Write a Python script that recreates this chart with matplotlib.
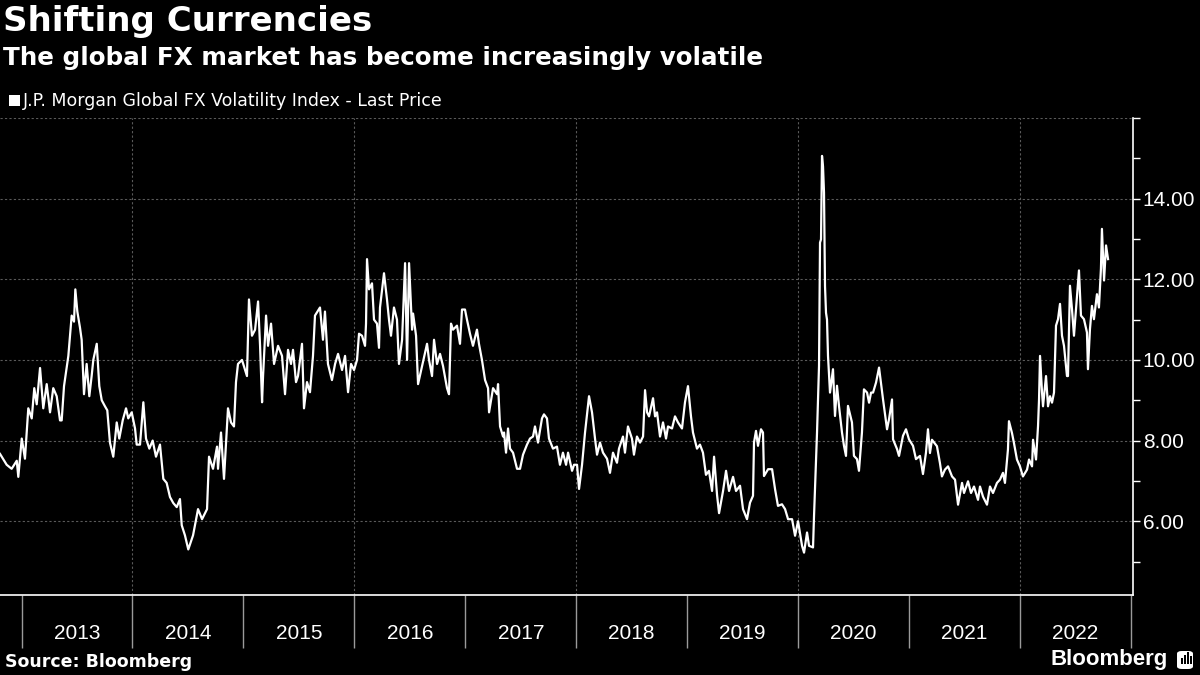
import matplotlib

matplotlib.use("Agg")
import matplotlib.pyplot as plt
from matplotlib.patches import FancyBboxPatch, Rectangle

plt.rcParams["font.family"] = ["Liberation Sans", "DejaVu Sans"]

# J.P. Morgan Global FX Volatility Index - Last Price.
# dates are decimal years, fx_vol is the index level.
dates = [
    # late 2012 - mid 2014
    2012.806, 2012.866, 2012.911, 2012.957, 2012.971, 2013.002, 2013.031, 2013.061, 2013.092, 2013.115,
    2013.137, 2013.167, 2013.196, 2013.227, 2013.257, 2013.286, 2013.317, 2013.347, 2013.362, 2013.383,
    2013.422, 2013.452, 2013.473, 2013.485, 2013.503, 2013.527, 2013.542, 2013.563, 2013.587, 2013.611,
    2013.632, 2013.647, 2013.678, 2013.701, 2013.723, 2013.752, 2013.773, 2013.797, 2013.827, 2013.858,
    2013.881, 2013.912, 2013.942, 2013.962, 2013.993, 2014.023, 2014.038, 2014.068, 2014.098, 2014.122,
    2014.152, 2014.182, 2014.212, 2014.248, 2014.278, 2014.308, 2014.338, 2014.368, 2014.399, 2014.428,
    2014.444, 2014.473, 2014.503,
    # mid 2014 - early 2016
    2014.546, 2014.591, 2014.627, 2014.672, 2014.690, 2014.726, 2014.762, 2014.771, 2014.798, 2014.825,
    2014.861, 2014.888, 2014.915, 2014.933, 2014.951, 2014.987, 2015.032, 2015.050, 2015.077, 2015.105,
    2015.132, 2015.150, 2015.168, 2015.177, 2015.204, 2015.222, 2015.249, 2015.276, 2015.312, 2015.348,
    2015.375, 2015.402, 2015.429, 2015.447, 2015.474, 2015.492, 2015.528, 2015.546, 2015.573, 2015.600,
    2015.627, 2015.645, 2015.690, 2015.717, 2015.735, 2015.762, 2015.798, 2015.826, 2015.853, 2015.889,
    2015.916, 2015.943, 2015.970, 2015.997, 2016.024, 2016.042, 2016.069, 2016.096, 2016.105,
    # 2016 - 2017
    2016.114, 2016.132, 2016.159, 2016.177, 2016.204, 2016.222, 2016.231, 2016.267, 2016.294, 2016.312,
    2016.330, 2016.357, 2016.384, 2016.402, 2016.430, 2016.457, 2016.475, 2016.493, 2016.520, 2016.529,
    2016.556, 2016.574, 2016.610, 2016.655, 2016.673, 2016.700, 2016.718, 2016.745, 2016.772, 2016.799,
    2016.835, 2016.853, 2016.871, 2016.889, 2016.925, 2016.952, 2016.970, 2016.997, 2017.015, 2017.042,
    2017.069, 2017.105, 2017.123, 2017.150, 2017.178, 2017.205, 2017.214, 2017.250, 2017.286, 2017.295,
    2017.313, 2017.340, 2017.349, 2017.367, 2017.385, 2017.403, 2017.430, 2017.466, 2017.493, 2017.520,
    2017.556, 2017.583, 2017.610, 2017.628, 2017.655, 2017.691, 2017.709, 2017.736, 2017.754, 2017.790,
    2017.826, 2017.853, 2017.880, 2017.908, 2017.926, 2017.962, 2017.980, 2018.007,
    # 2018 - mid 2019
    2018.025, 2018.052, 2018.079, 2018.115, 2018.142, 2018.169, 2018.187, 2018.214, 2018.241, 2018.277,
    2018.304, 2018.331, 2018.367, 2018.385, 2018.421, 2018.439, 2018.466, 2018.502, 2018.520, 2018.547,
    2018.575, 2018.602, 2018.620, 2018.638, 2018.656, 2018.692, 2018.710, 2018.728, 2018.755, 2018.782,
    2018.809, 2018.827, 2018.863, 2018.890, 2018.917, 2018.953, 2018.980, 2019.007, 2019.034, 2019.052,
    2019.088, 2019.115, 2019.142, 2019.169, 2019.196, 2019.224, 2019.242, 2019.269, 2019.287, 2019.323,
    2019.350, 2019.377, 2019.413, 2019.440,
    # mid 2019 - early 2021
    2019.476, 2019.503, 2019.539, 2019.566, 2019.593, 2019.602, 2019.620, 2019.638, 2019.665, 2019.683,
    2019.692, 2019.729, 2019.765, 2019.792, 2019.818, 2019.854, 2019.882, 2019.909, 2019.945, 2019.972,
    2019.999, 2020.035, 2020.053, 2020.080, 2020.098, 2020.134, 2020.143, 2020.161, 2020.170, 2020.188,
    2020.192, 2020.197, 2020.206, 2020.215, 2020.224, 2020.233, 2020.242, 2020.251, 2020.260, 2020.269,
    2020.287, 2020.314, 2020.332, 2020.350, 2020.368, 2020.395, 2020.413, 2020.431, 2020.449, 2020.485,
    2020.503, 2020.530, 2020.548, 2020.575, 2020.593, 2020.621, 2020.639, 2020.657, 2020.675, 2020.702,
    2020.729, 2020.765, 2020.801, 2020.819, 2020.846, 2020.855, 2020.891, 2020.909, 2020.945, 2020.972,
    2020.999, 2021.035, 2021.062, 2021.098, 2021.125, 2021.152, 2021.170,
    # 2021 - 2022
    2021.188, 2021.206, 2021.251, 2021.278, 2021.296, 2021.323, 2021.351, 2021.387, 2021.414, 2021.441,
    2021.477, 2021.495, 2021.531, 2021.558, 2021.585, 2021.621, 2021.639, 2021.666, 2021.702, 2021.729,
    2021.756, 2021.792, 2021.819, 2021.846, 2021.864, 2021.891, 2021.900, 2021.927, 2021.945, 2021.972,
    2021.999, 2022.026, 2022.063, 2022.081, 2022.108, 2022.117, 2022.144, 2022.162, 2022.171, 2022.180,
    2022.198, 2022.207, 2022.234, 2022.252, 2022.270, 2022.288, 2022.306, 2022.324, 2022.342, 2022.360,
    2022.378, 2022.396, 2022.423, 2022.432, 2022.450, 2022.468, 2022.486, 2022.513, 2022.531, 2022.549,
    2022.576, 2022.603, 2022.612, 2022.630, 2022.648, 2022.666, 2022.693, 2022.711, 2022.729, 2022.738,
    2022.757, 2022.775, 2022.793,
]

fx_vol = [
    # late 2012 - mid 2014
    7.67, 7.4, 7.3, 7.5, 7.1, 8.05, 7.55, 8.8, 8.55, 9.3,
    8.9, 9.8, 8.8, 9.4, 8.7, 9.3, 9.1, 8.5, 8.5, 9.35,
    10.1, 11.1, 10.95, 11.75, 11.2, 10.8, 10.5, 9.15, 9.9, 9.1,
    9.6, 10.0, 10.4, 9.35, 9.0, 8.85, 8.75, 7.95, 7.6, 8.45,
    8.05, 8.5, 8.8, 8.55, 8.7, 8.3, 7.9, 7.9, 8.95, 8.05,
    7.8, 8.0, 7.6, 7.9, 7.05, 6.95, 6.6, 6.45, 6.35, 6.55,
    5.9, 5.65, 5.3,
    # mid 2014 - early 2016
    5.65, 6.3, 6.05, 6.3, 7.6, 7.3, 7.85, 7.3, 8.2, 7.05,
    8.8, 8.45, 8.35, 9.45, 9.9, 10.0, 9.6, 11.5, 10.6, 10.75,
    11.45, 10.35, 8.95, 9.6, 11.1, 10.35, 10.9, 9.9, 10.35, 10.1,
    9.15, 10.25, 9.9, 10.25, 9.45, 9.6, 10.4, 8.8, 9.45, 9.2,
    10.1, 11.1, 11.3, 10.5, 11.2, 9.9, 9.5, 9.9, 10.15, 9.75,
    10.1, 9.2, 9.9, 9.75, 10.0, 10.65, 10.6, 10.35, 10.9,
    # 2016 - 2017
    12.5, 11.75, 11.9, 11.0, 10.9, 10.3, 11.3, 12.15, 11.5, 11.0,
    10.6, 11.3, 11.0, 9.9, 10.5, 12.4, 10.0, 12.4, 10.75, 11.15,
    10.6, 9.4, 9.85, 10.4, 10.0, 9.6, 10.5, 9.9, 10.15, 9.85,
    9.3, 9.15, 10.9, 10.75, 10.85, 10.4, 11.25, 11.25, 11.0, 10.65,
    10.35, 10.75, 10.4, 10.0, 9.5, 9.3, 8.7, 9.3, 9.15, 9.4,
    8.35, 8.1, 8.2, 7.7, 8.3, 7.8, 7.7, 7.3, 7.3, 7.65,
    7.9, 8.05, 8.1, 8.35, 7.95, 8.55, 8.65, 8.55, 8.05, 7.8,
    7.85, 7.4, 7.7, 7.4, 7.7, 7.25, 7.4, 7.4,
    # 2018 - mid 2019
    6.8, 7.4, 8.2, 9.1, 8.7, 8.05, 7.65, 7.95, 7.7, 7.55,
    7.2, 7.7, 7.45, 7.8, 8.1, 7.7, 8.35, 8.05, 7.65, 8.1,
    7.95, 8.1, 9.25, 8.7, 8.6, 9.05, 8.6, 8.7, 8.1, 8.45,
    8.05, 8.35, 8.3, 8.6, 8.45, 8.3, 8.95, 9.35, 8.6, 8.2,
    7.8, 7.9, 7.7, 7.15, 7.25, 6.75, 7.6, 6.65, 6.2, 6.75,
    7.25, 6.75, 7.1, 6.75,
    # mid 2019 - early 2021
    6.88, 6.3, 6.05, 6.46, 6.63, 7.95, 8.24, 7.87, 8.28, 8.2,
    7.12, 7.29, 7.29, 6.79, 6.38, 6.42, 6.3, 6.05, 6.05, 5.64,
    6.0, 5.39, 5.22, 5.72, 5.39, 5.35, 6.13, 7.54, 8.2, 9.85,
    11.09, 12.91, 12.99, 15.06, 14.8, 14.15, 11.83, 11.17, 11.0, 10.1,
    9.19, 9.77, 8.61, 9.36, 8.86, 8.2, 7.87, 7.62, 8.86, 8.45,
    7.62, 7.54, 7.25, 8.2, 9.27, 9.19, 8.94, 9.19, 9.19, 9.44,
    9.81, 9.02, 8.28, 8.53, 9.02, 8.03, 7.79, 7.62, 8.12, 8.28,
    8.03, 7.87, 7.54, 7.62, 7.17, 7.7, 8.28,
    # 2021 - 2022
    7.69, 8.02, 7.86, 7.44, 7.11, 7.28, 7.36, 7.11, 7.03, 6.41,
    6.95, 6.7, 6.99, 6.7, 6.86, 6.53, 6.86, 6.61, 6.41, 6.86,
    6.7, 6.95, 7.03, 7.2, 6.95, 7.78, 8.48, 8.19, 7.94, 7.53,
    7.36, 7.11, 7.28, 7.53, 7.36, 8.02, 7.53, 8.36, 9.02, 10.1,
    9.19, 8.85, 9.6, 8.85, 9.1, 8.94, 9.19, 10.85, 11.01, 11.39,
    10.6, 10.35, 9.6, 9.6, 11.84, 11.26, 10.6, 11.59, 12.22, 11.1,
    11.01, 10.68, 9.77, 10.76, 11.34, 11.01, 11.63, 11.3, 12.26, 13.25,
    11.97, 12.84, 12.5,
]

assert len(dates) == len(fx_vol)

year_labels = ["2013", "2014", "2015", "2016", "2017", "2018", "2019", "2020", "2021", "2022"]
year_edges = [2013, 2014, 2015, 2016, 2017, 2018, 2019, 2020, 2021, 2022, 2023]
grid_years = [2014, 2016, 2018, 2020, 2022]
y_major = [6, 8, 10, 12, 14, 16]
y_minor = [5, 7, 9, 11, 13, 15]

TITLE = "Shifting Currencies"
SUBTITLE = "The global FX market has become increasingly volatile"
LEGEND = "J.P. Morgan Global FX Volatility Index - Last Price"
SOURCE = "Source: Bloomberg"

W, H = 1200, 675
fig = plt.figure(figsize=(W / 100, H / 100), dpi=100, facecolor="black")

# axes box in pixels: x 0..1133, y 118..595
ax = fig.add_axes([0, 1 - 595 / H, 1133 / W, (595 - 118) / H])
ax.set_facecolor("black")

ax.plot(dates, fx_vol, color="white", lw=1.6, solid_joinstyle="round", zorder=3)

ax.set_xlim(2012.806, 2023.018)
ax.set_ylim(4.17, 16)

for s in ["left", "top"]:
    ax.spines[s].set_visible(False)
for s in ["right", "bottom"]:
    ax.spines[s].set_color("white")
    ax.spines[s].set_linewidth(1.2)

# y axis on the right
ax.yaxis.tick_right()
ax.set_yticks(y_major)
ax.set_yticklabels([f"{v:.2f}" if v < 16 else "" for v in y_major])
ax.set_yticks(y_minor, minor=True)
ax.tick_params(axis="y", which="both", direction="out", length=5, width=1,
               color="white", labelcolor="white", labelsize=15, pad=2)
ax.grid(axis="y", which="major", color="#5a5a5a", linestyle=(0, (2, 2)), lw=0.8)
for gy in grid_years:
    ax.axvline(gy, color="#5a5a5a", linestyle=(0, (2, 2)), lw=0.8, zorder=1)

# x axis: long separators at year edges, labels centred in each year
ax.set_xticks(year_edges)
ax.set_xticklabels([])
ax.set_xticks([y + 0.5 for y in year_edges[:-1]], minor=True)
ax.set_xticklabels(year_labels, minor=True)
ax.tick_params(axis="x", which="major", direction="out", length=38, width=1, color="#9a9a9a")
ax.tick_params(axis="x", which="minor", length=0, labelcolor="white", labelsize=15, pad=21)

# header
head = ["DejaVu Sans"]
fig.text(3 / W, 1 - 5 / H, TITLE, color="white", fontsize=24.5, fontweight="bold",
         family=head, va="top", ha="left")
fig.text(3 / W, 1 - 46 / H, SUBTITLE, color="white", fontsize=17.7, fontweight="bold",
         family=head, va="top", ha="left")
fig.add_artist(Rectangle((9 / W, 1 - 106 / H), 11 / W, 11 / H, transform=fig.transFigure,
                         facecolor="white", edgecolor="none"))
fig.text(23 / W, 1 - 101 / H, LEGEND, color="white", fontsize=12.5, family=head,
         va="center", ha="left")

# footer
fig.text(5 / W, 1 - 662 / H, SOURCE, color="white", fontsize=12.5, fontweight="bold",
         family=head, va="center", ha="left")
fig.text(1168 / W, 1 - 660 / H, "Bloomberg", color="white", fontsize=16, fontweight="bold",
         va="center", ha="right")
fig.add_artist(FancyBboxPatch((1177 / W, 1 - 669 / H), 16 / W, 18 / H, transform=fig.transFigure,
                              boxstyle="round,pad=0,rounding_size=0.004",
                              facecolor="white", edgecolor="none"))
for bx, bh in [(1181, 6), (1184, 9), (1187, 12), (1190, 8)]:
    fig.add_artist(Rectangle((bx / W, 1 - 664 / H), 1.5 / W, bh / H, transform=fig.transFigure,
                             facecolor="black", edgecolor="none"))

fig.savefig("out.png", dpi=100, facecolor="black")
